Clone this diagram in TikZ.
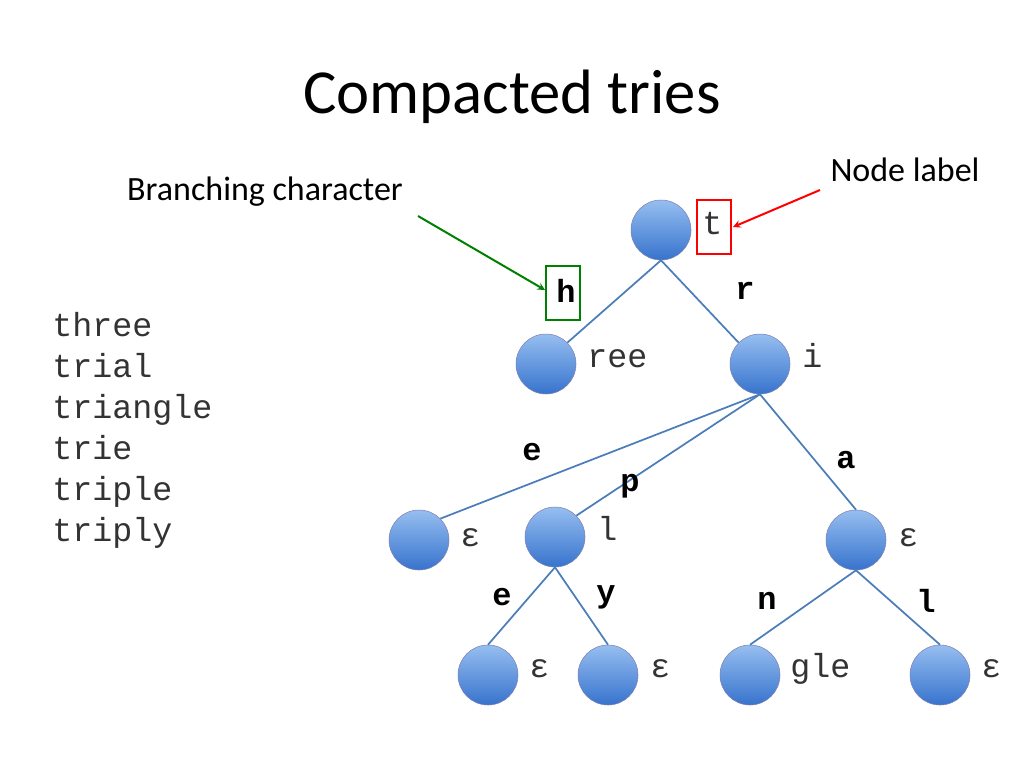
\documentclass[tikz,border=0pt]{standalone}
\usepackage{fontspec}
\setmainfont{Carlito}
\newfontfamily\cour{Liberation Mono}
\begin{document}
\begin{tikzpicture}[x=0.75pt,y=-0.75pt,
  nd/.style={circle,minimum size=45pt,inner sep=0pt,draw=blue!40!black!50,line width=0.4pt,top color={rgb,255:red,150;green,190;blue,240},bottom color={rgb,255:red,55;green,115;blue,205}},
  lab/.style={font=\cour\fontsize{25}{25}\selectfont,text=black!80,anchor=base west,inner sep=0pt},
  br/.style={font=\cour\bfseries\fontsize{24}{24}\selectfont,inner sep=0pt},
  ed/.style={draw={rgb,255:red,75;green,125;blue,185},line width=1.3pt}]
\useasboundingbox (0,0) rectangle (1024,768);
\node at (512,97) {\fontsize{47}{47}\selectfont Compacted tries};
\node (nl) at (905,170) {\fontsize{25.5}{25.5}\selectfont Node label};
\node (bc) at (265,192) {\fontsize{25.5}{25.5}\selectfont Branching character};
\node[lab] (w1) at (52,336) {three};
\node[lab] (w2) at (52,377) {trial};
\node[lab] (w3) at (52,418) {triangle};
\node[lab] (w4) at (52,459) {trie};
\node[lab] (w5) at (52,500) {triple};
\node[lab] (w6) at (52,541) {triply};
\node[nd] (t) at (661,230) {};
\node[nd] (ree) at (546,364) {};
\node[nd] (i) at (760,364) {};
\node[nd] (e1) at (419,540) {};
\node[nd] (l) at (555,537) {};
\node[nd] (e2) at (856,540) {};
\node[nd] (e3) at (488,675) {};
\node[nd] (e4) at (608,675) {};
\node[nd] (gle) at (750,675) {};
\node[nd] (e5) at (940,675) {};
\draw[ed] (t.south) -- (ree.north east);
\draw[ed] (t.south) -- (i.north west);
\draw[ed] (i.south) -- (e1.north east);
\draw[ed] (i.south) -- (l.north east);
\draw[ed] (i.south) -- (e2.north);
\draw[ed] (l.south) -- (e3.north);
\draw[ed] (l.south) -- (e4.north);
\draw[ed] (e2.south) -- (gle.north);
\draw[ed] (e2.south) -- (e5.north);
\node[lab] (tl) at (702,234) {t};
\node[lab] at (587,367) {ree};
\node[lab] at (802,367) {i};
\node[lab] at (460,546) {ε};
\node[lab] at (597,540) {l};
\node[lab] at (898,546) {ε};
\node[lab] at (529,677) {ε};
\node[lab] at (650,677) {ε};
\node[lab] at (790,677) {gle};
\node[lab] at (981,677) {ε};
\node[br] (h) at (566,291) {h};
\node[br] at (745,291) {r};
\node[br] at (532,452) {e};
\node[br] at (630,486) {p};
\node[br] at (846,460) {a};
\node[br] at (502,597) {e};
\node[br] at (606,597) {y};
\node[br] at (767,601) {n};
\node[br] at (926,601) {l};
\draw[red,line width=1.5pt] (697,200) rectangle (731,254);
\draw[green!50!black,line width=1.5pt] (546,266) rectangle (580,320);
\draw[red,line width=1.5pt,-stealth] (820,190) -- (733,227);
\draw[green!50!black,line width=1.5pt,-stealth] (418,216) -- (545,290);
\end{tikzpicture}
\end{document}
